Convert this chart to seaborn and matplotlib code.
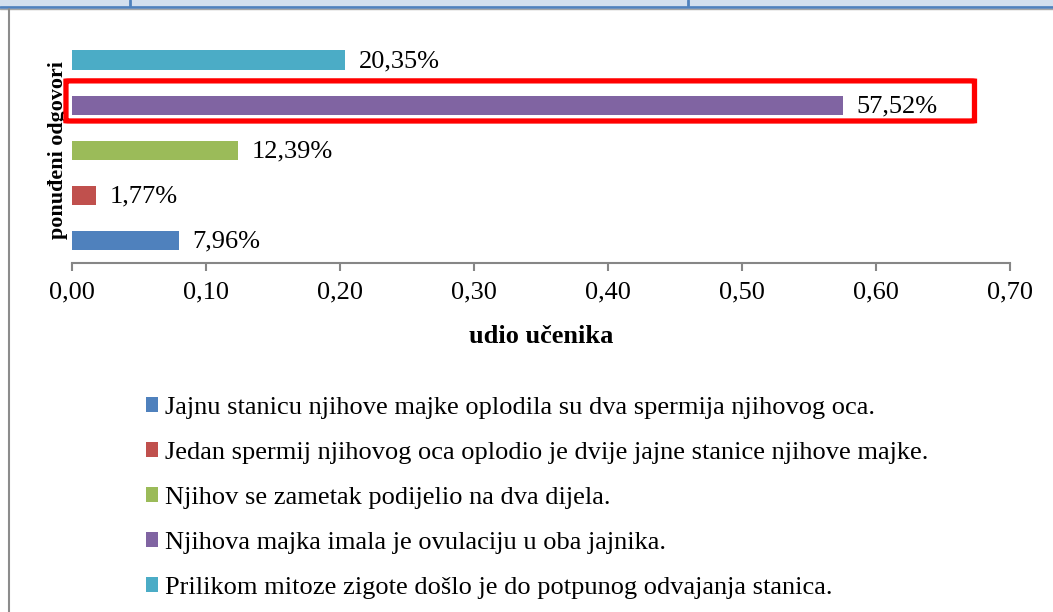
import matplotlib
matplotlib.use("Agg")
import matplotlib.pyplot as plt
import matplotlib.patches as mpatches
from matplotlib.lines import Line2D
from matplotlib.ticker import FuncFormatter, MultipleLocator
import seaborn as sns
import pandas as pd

# Answers, listed in legend order
answers = [
    "Jajnu stanicu njihove majke oplodila su dva spermija njihovog oca.",
    "Jedan spermij njihovog oca oplodio je dvije jajne stanice njihove majke.",
    "Njihov se zametak podijelio na dva dijela.",
    "Njihova majka imala je ovulaciju u oba jajnika.",
    "Prilikom mitoze zigote došlo je do potpunog odvajanja stanica.",
]
shares = [0.0796, 0.0177, 0.1239, 0.5752, 0.2035]
colors = ["#4F81BD", "#C0504D", "#9BBB59", "#8064A2", "#4BACC6"]
highlighted = "Njihova majka imala je ovulaciju u oba jajnika."

x_label = "udio učenika"
y_label = "ponuđeni odgovori"

sns.set_theme(style="white")
plt.rcParams["font.family"] = ["Liberation Serif", "DejaVu Serif"]
plt.rcParams["text.color"] = "black"

W, H = 1053, 612
fig = plt.figure(figsize=(W / 100, H / 100), dpi=100)

def fx(px):
    return px / W

def fy(py):
    return 1 - py / H

ax = fig.add_axes([fx(72), fy(263), fx(1010) - fx(72), fy(37.6) - fy(263)])

# bars drawn top-to-bottom in reverse legend order
order = answers[::-1]
df = pd.DataFrame({"odgovor": answers, "udio": shares})
palette = dict(zip(answers, colors))
sns.barplot(data=df, x="udio", y="odgovor", hue="odgovor", order=order,
            hue_order=order, palette=palette, orient="h", width=0.43,
            saturation=1, dodge=False, legend=False, linewidth=0, ax=ax)

ax.set_xlim(0, 0.70)
ax.set_ylim(4.5, -0.5)
ax.xaxis.set_major_locator(MultipleLocator(0.10))
ax.xaxis.set_major_formatter(FuncFormatter(lambda v, _: f"{v:.2f}".replace(".", ",")))
ax.set_yticks([])
ax.tick_params(axis="x", which="major", bottom=True, direction="out", length=6,
               width=1.5, color="#868686", labelsize=19, pad=7, labelcolor="black")
for side in ("top", "right", "left"):
    ax.spines[side].set_visible(False)
ax.spines["bottom"].set_color("#868686")
ax.spines["bottom"].set_linewidth(1.5)

ax.set_xlabel(x_label, fontsize=19, fontweight="bold", labelpad=16, color="black")
ax.set_ylabel(y_label, fontsize=15.8, fontweight="bold", labelpad=3, color="black")

# value labels next to each bar
for name, v in zip(answers, shares):
    ax.annotate(f"{v * 100:.2f}%".replace(".", ","), xy=(v, order.index(name)),
                xytext=(10, -1), textcoords="offset points", ha="left", va="center",
                fontsize=19, color="black")

# red frame around the highlighted answer
hi = order.index(highlighted)
ax.add_patch(mpatches.FancyBboxPatch((-0.0045, hi - 0.54), 0.678, 0.89,
                                     boxstyle="round,pad=0,rounding_size=0.004",
                                     fill=False, edgecolor="#FF0000", linewidth=3.8,
                                     clip_on=False, zorder=5))

# legend
handles = [mpatches.Patch(facecolor=c, edgecolor="none") for c in colors]
fig.legend(handles, answers, loc="upper left", bbox_to_anchor=(fx(146), fy(397)),
           frameon=False, fontsize=19, handlelength=0.46, handleheight=0.46,
           handletextpad=0.27, labelspacing=0.87, borderpad=0, borderaxespad=0,
           labelcolor="black")

# surrounding page elements: table strip on top, frame on the left
fig.patches.append(mpatches.Rectangle((0, fy(6)), 1, 1 - fy(6), transform=fig.transFigure,
                                      facecolor="#D3DFEE", edgecolor="none"))
fig.lines.append(Line2D([0, 1], [fy(6.5), fy(6.5)], transform=fig.transFigure,
                        color="#4F81BD", linewidth=2))
fig.lines.append(Line2D([0, 1], [fy(8.7), fy(8.7)], transform=fig.transFigure,
                        color="#A6A6A6", linewidth=1))
for px in (130, 688):
    fig.lines.append(Line2D([fx(px), fx(px)], [fy(6), 1], transform=fig.transFigure,
                            color="#4F81BD", linewidth=2))
fig.lines.append(Line2D([fx(8.5), fx(8.5)], [fy(9), 0], transform=fig.transFigure,
                        color="#8C8C8C", linewidth=1.5))

fig.savefig("out.png", dpi=100)
